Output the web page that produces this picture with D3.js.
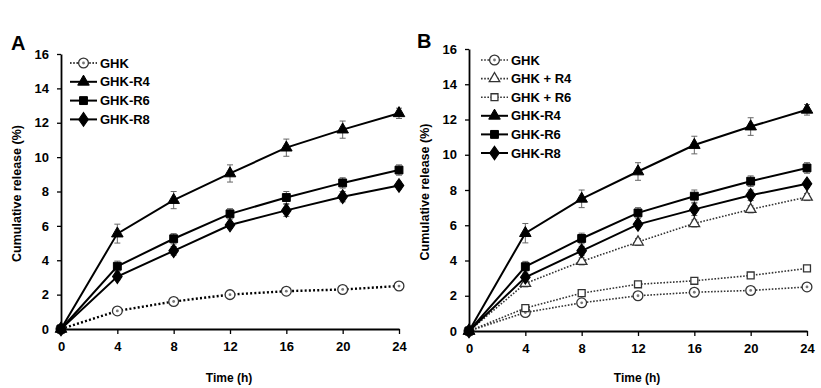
<!DOCTYPE html>
<html><head><meta charset="utf-8">
<script src="https://cdn.jsdelivr.net/npm/d3@7"></script>
<style>body{margin:0;background:#fff}svg{display:block}text{font-family:"Liberation Sans Narrow","Arial Narrow","Liberation Sans",sans-serif;font-weight:bold;fill:#000}</style>
</head><body><svg id="c" width="821" height="388"></svg>
<script>
const times = [0, 4, 8, 12, 16, 20, 24];
const xTicks = [0, 4, 8, 12, 16, 20, 24];
const yTicks = [0, 2, 4, 6, 8, 10, 12, 14, 16];
const ghk     = [0, 1.05, 1.6, 2.0, 2.2, 2.3, 2.5];
const ghkR4   = [0, 5.55, 7.5, 9.05, 10.55, 11.6, 12.55];
const ghkR6   = [0, 3.65, 5.25, 6.7, 7.65, 8.5, 9.25];
const ghkR8   = [0, 3.05, 4.55, 6.05, 6.9, 7.7, 8.35];
const ghkPlusR4 = [0, 2.7, 3.95, 5.05, 6.1, 6.9, 7.6];
const ghkPlusR6 = [0, 1.3, 2.15, 2.65, 2.85, 3.15, 3.55];
const errGhk   = [0, 0.1, 0.1, 0.1, 0.1, 0.1, 0.1];
const errR4    = [0, 0.55, 0.5, 0.5, 0.5, 0.5, 0.3];
const errR6    = [0, 0.3, 0.3, 0.3, 0.35, 0.3, 0.3];
const errR8    = [0, 0.2, 0.25, 0.2, 0.35, 0.3, 0.2];
const errPlusR4 = [0, 0.2, 0.2, 0.2, 0.2, 0.2, 0.2];
const errPlusR6 = [0, 0.15, 0.15, 0.15, 0.15, 0.15, 0.15];

const svg = d3.select("#c");

const S = {
  ghkA:   {name:"GHK", vals:ghk, err:errGhk, sym:"circle", fill:"#fff", dotted:true, color:"#000", w:2.4, dash:"2,2.2"},
  ghkB:   {name:"GHK", vals:ghk, err:errGhk, sym:"circle", fill:"#fff", dotted:true, color:"#333", w:1.6, dash:"1.6,1.6"},
  plusR4: {name:"GHK + R4", vals:ghkPlusR4, err:errPlusR4, sym:"triangle", fill:"#fff", dotted:true, color:"#333", w:1.6, dash:"1.6,1.6"},
  plusR6: {name:"GHK + R6", vals:ghkPlusR6, err:errPlusR6, sym:"square", fill:"#fff", dotted:true, color:"#333", w:1.6, dash:"1.6,1.6"},
  r4: {name:"GHK-R4", vals:ghkR4, err:errR4, sym:"triangle", fill:"#000", dotted:false, color:"#000", w:2},
  r6: {name:"GHK-R6", vals:ghkR6, err:errR6, sym:"square", fill:"#000", dotted:false, color:"#000", w:2},
  r8: {name:"GHK-R8", vals:ghkR8, err:errR8, sym:"diamond", fill:"#000", dotted:false, color:"#000", w:2}
};

function symPath(sym, filled){
  const sizes = filled ? {circle:80, triangle:58, square:62, diamond:60} : {circle:75, triangle:48, square:48, diamond:60};
  const t = {circle:d3.symbolCircle, triangle:d3.symbolTriangle, square:d3.symbolSquare, diamond:d3.symbolDiamond}[sym];
  return d3.symbol().type(t).size(sizes[sym])();
}

function drawMarker(g, s, cx, cy){
  const filled = s.fill === "#000";
  g.append("path").attr("d", symPath(s.sym, filled))
    .attr("transform", `translate(${cx},${cy})` + (s.sym==="diamond" ? " scale(1.15,0.95)" : ""))
    .attr("fill", s.fill).attr("stroke", filled ? "#000" : "#333").attr("stroke-width", filled ? 1 : 1.3);
  if (s.sym === "circle") {
    g.append("circle").attr("cx", cx).attr("cy", cy).attr("r", 1.4).attr("fill", "#777");
  }
}

function panel(opts){
  const x = d3.scaleLinear().domain([0, 24]).range([opts.x0, opts.x1]);
  const y = d3.scaleLinear().domain([0, 16]).range([opts.y0, opts.y1]);
  const g = svg.append("g");

  const xa = g.append("g").attr("transform", `translate(0,${opts.y0})`)
    .call(d3.axisBottom(x).tickValues(xTicks).tickSize(5).tickSizeOuter(0).tickPadding(8));
  const ya = g.append("g").attr("transform", `translate(${opts.x0},0)`)
    .call(d3.axisLeft(y).tickValues(yTicks).tickSize(4).tickSizeOuter(0).tickPadding(8));
  [xa, ya].forEach(a => {
    a.selectAll(".domain").attr("stroke", "#000").attr("stroke-width", 1.8);
    a.selectAll(".tick line").attr("stroke", "#000").attr("stroke-width", 1.3);
    a.selectAll("text").style("font-size", "13px").style("font-weight", "bold").attr("fill", "#000");
  });

  g.append("text").attr("x", (opts.x0 + opts.x1)/2 - 1).attr("y", 382)
    .attr("text-anchor", "middle").style("font-size", "12px").text("Time (h)");
  g.append("text").attr("transform", `translate(${opts.x0 - 40},${(opts.y0+opts.y1)/2 + 2}) rotate(-90)`)
    .attr("text-anchor", "middle").style("font-size", "12.5px").text("Cumulative release (%)");
  g.append("text").attr("x", opts.labelX).attr("y", opts.labelY).style("font-size", "20px")
    .style("font-family", "'Liberation Sans',Arial,sans-serif").text(opts.label);

  const line = d3.line().x((d,i) => x(times[i])).y(d => y(d));
  const order = opts.series.slice().sort((a,b) => (b.dotted?1:0) - (a.dotted?1:0));
  order.forEach(s => {
    g.append("path").datum(s.vals).attr("d", line).attr("fill", "none")
      .attr("stroke", s.color).attr("stroke-width", s.w)
      .attr("stroke-dasharray", s.dotted ? s.dash : null);
    s.vals.forEach((v, i) => {
      if (s.err[i] > 0) {
        const cx = x(times[i]);
        g.append("line").attr("x1", cx).attr("x2", cx).attr("y1", y(v - s.err[i])).attr("y2", y(v + s.err[i]))
          .attr("stroke", "#666").attr("stroke-width", 1);
        [v - s.err[i], v + s.err[i]].forEach(e => {
          g.append("line").attr("x1", cx - 3).attr("x2", cx + 3).attr("y1", y(e)).attr("y2", y(e))
            .attr("stroke", "#666").attr("stroke-width", 1);
        });
      }
    });
    s.vals.forEach((v, i) => drawMarker(g, s, x(times[i]), y(v)));
  });

  opts.series.forEach((s, i) => {
    const ly = opts.legY + i * opts.legStep;
    g.append("line").attr("x1", opts.legX).attr("x2", opts.legX + 27).attr("y1", ly).attr("y2", ly)
      .attr("stroke", s.color).attr("stroke-width", s.dotted ? 1.6 : 2)
      .attr("stroke-dasharray", s.dotted ? "1.6,1.6" : null);
    drawMarker(g, s, opts.legX + 13.5, ly);
    g.append("text").attr("x", opts.legX + 30).attr("y", ly + 4.5).style("font-size", "13px").text(s.name);
  });
}

panel({x0:61, x1:399, y0:329, y1:54, label:"A", labelX:11, labelY:50,
  series:[S.ghkA, S.r4, S.r6, S.r8], legX:70, legY:63, legStep:18.8});
panel({x0:469, x1:807, y0:331, y1:49, label:"B", labelX:417, labelY:48,
  series:[S.ghkB, S.plusR4, S.plusR6, S.r4, S.r6, S.r8], legX:481, legY:60, legStep:18.6});
</script></body></html>
